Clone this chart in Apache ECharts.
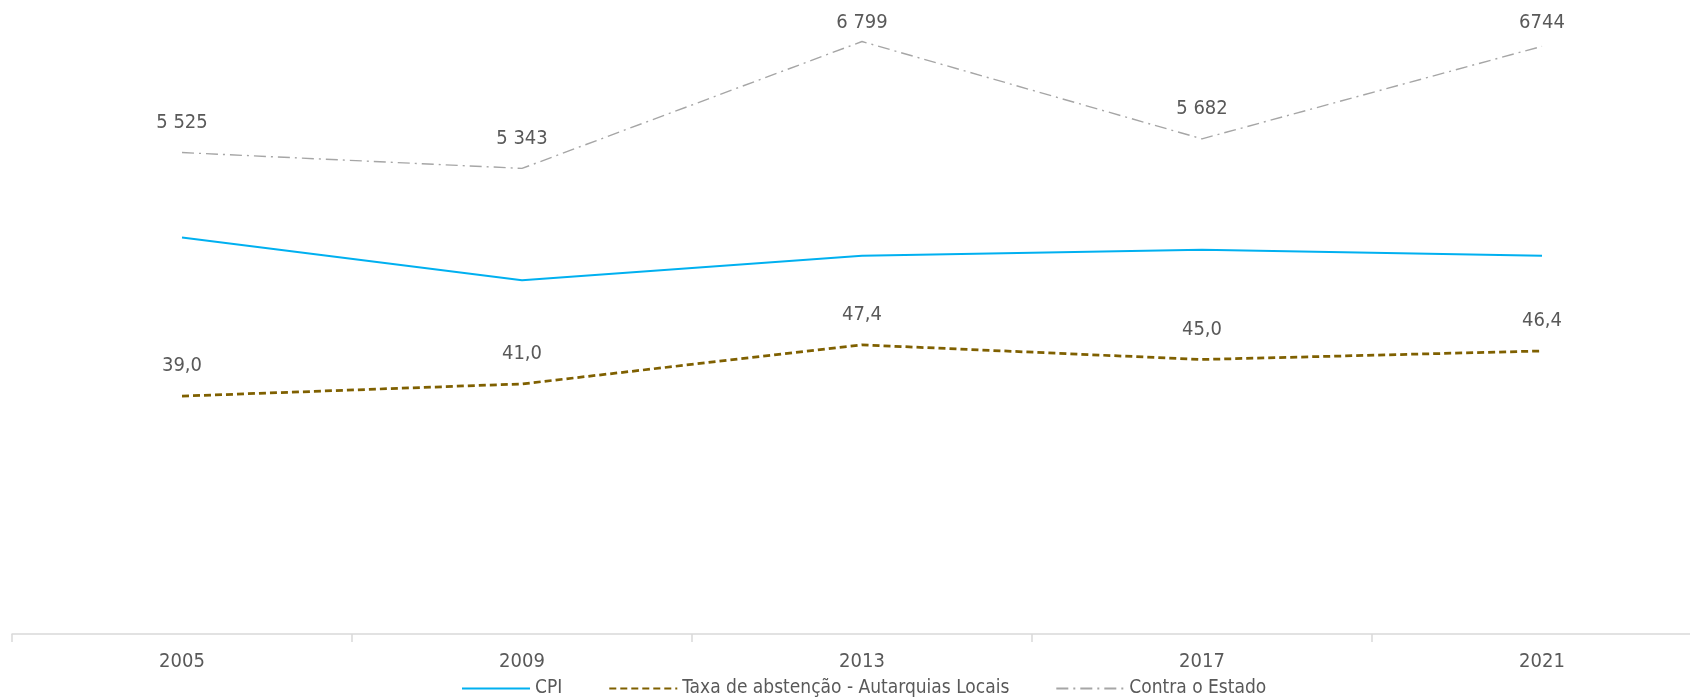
<!DOCTYPE html>
<html>
<head>
<meta charset="utf-8">
<script src="https://cdn.jsdelivr.net/npm/echarts@6/dist/echarts.min.js"></script>
<style>
html,body{margin:0;padding:0;background:#fff;}
#chart{width:1690px;height:699px;}
</style>
</head>
<body>
<div id="chart"></div>
<script>
const categories = ['2005', '2009', '2013', '2017', '2021'];
const cpi = [65, 58, 62, 63, 62];
const abstencao = [39.0, 41.0, 47.4, 45.0, 46.4];
const contraEstado = [5525, 5343, 6799, 5682, 6744];
const contraEstadoLabels = ['5 525', '5 343', '6 799', '5 682', '6744'];
const seriesNames = ['CPI', 'Taxa de abstenção - Autarquias Locais', 'Contra o Estado'];

const FONT = '"DejaVu Sans Condensed", "Liberation Sans Narrow", sans-serif';
const FS = 20;
const FS_LEGEND = 19;
const TXT = '#595959';

const chart = echarts.init(document.getElementById('chart'), null, {renderer: 'canvas'});

const labelBase = {
  show: true,
  position: 'top',
  distance: 20,
  offset: [4, 0],
  color: TXT,
  fontFamily: FONT,
  fontSize: FS
};

const clampTop = function (params) {
  const r = params.labelRect;
  if (r && r.y < 13) return {dy: 13 - r.y};
  return {};
};

const option = {
  animation: false,
  backgroundColor: '#ffffff',
  grid: {left: 12, width: 1700, top: 24, bottom: 65, containLabel: false, outerBoundsMode: 'none'},
  legend: {
    left: 456,
    top: 674,
    itemWidth: 68,
    itemHeight: 14,
    itemGap: 46,
    itemStyle: {opacity: 0, color: 'rgba(0,0,0,0)', borderWidth: 0},
    textStyle: {color: TXT, fontFamily: FONT, fontSize: FS_LEGEND},
    data: seriesNames
  },
  xAxis: {
    type: 'category',
    data: categories,
    boundaryGap: true,
    axisLine: {show: true, lineStyle: {color: '#D9D9D9', width: 1.5}},
    axisTick: {show: true, length: 8, inside: false, lineStyle: {color: '#D9D9D9', width: 1.5}},
    axisLabel: {color: TXT, fontFamily: FONT, fontSize: FS, margin: 18},
    splitLine: {show: false}
  },
  yAxis: [
    {type: 'value', min: 0, max: 100, show: false},
    {type: 'value', min: 0, max: 7000, show: false}
  ],
  series: [
    {
      name: seriesNames[0],
      type: 'line',
      yAxisIndex: 0,
      data: cpi,
      symbol: 'circle',
      symbolSize: 0.01,
      showSymbol: true,
      lineStyle: {color: '#00B0F0', width: 2},
      itemStyle: {color: '#00B0F0'},
      label: {show: false}
    },
    {
      name: seriesNames[1],
      type: 'line',
      yAxisIndex: 0,
      data: abstencao,
      symbol: 'circle',
      symbolSize: 0.01,
      showSymbol: true,
      lineStyle: {color: '#7F6000', width: 2.75, type: [7, 4]},
      itemStyle: {color: '#7F6000'},
      label: Object.assign({}, labelBase, {
        formatter: p => p.value.toFixed(1).replace('.', ',')
      }),
      labelLayout: clampTop
    },
    {
      name: seriesNames[2],
      type: 'line',
      yAxisIndex: 1,
      data: contraEstado,
      symbol: 'circle',
      symbolSize: 0.01,
      showSymbol: true,
      lineStyle: {color: '#A6A6A6', width: 1.4, type: [12, 5, 2, 5]},
      itemStyle: {color: '#A6A6A6'},
      label: Object.assign({}, labelBase, {
        formatter: p => contraEstadoLabels[p.dataIndex]
      }),
      labelLayout: clampTop
    }
  ]
};

chart.setOption(option);
</script>
</body>
</html>
